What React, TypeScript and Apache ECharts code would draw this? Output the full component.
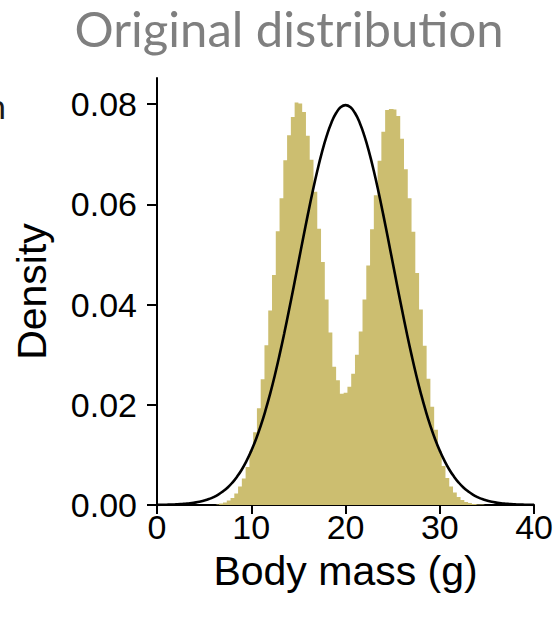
import React, { useEffect, useRef } from "react";
import * as echarts from "echarts";

// Histogram bins (centre of each 0.4-wide bin) and densities
const binCenters = [
  6.0, 6.4, 6.8, 7.2, 7.6, 8.0, 8.4, 8.8, 9.2, 9.6, 10.0, 10.4, 10.8, 11.2, 11.6, 12.0,
  12.4, 12.8, 13.2, 13.6, 14.0, 14.4, 14.8, 15.2, 15.6, 16.0, 16.4, 16.8, 17.2, 17.6,
  18.0, 18.4, 18.8, 19.2, 19.6, 20.0, 20.4, 20.8, 21.2, 21.6, 22.0, 22.4, 22.8, 23.2,
  23.6, 24.0, 24.4, 24.8, 25.2, 25.6, 26.0, 26.4, 26.8, 27.2, 27.6, 28.0, 28.4, 28.8,
  29.2, 29.6, 30.0, 30.4, 30.8, 31.2, 31.6, 32.0, 32.4, 32.8, 33.2, 33.6, 34.0, 34.4, 34.8,
];
const binDensity = [
  0, 0.0001, 0.0003, 0.0005, 0.0009, 0.0014, 0.0023, 0.0037, 0.0053, 0.0076, 0.0108,
  0.0145, 0.0193, 0.0251, 0.0319, 0.0388, 0.0459, 0.0546, 0.0612, 0.0688, 0.0738,
  0.0774, 0.0803, 0.0801, 0.0784, 0.0737, 0.0689, 0.0625, 0.0551, 0.0485, 0.041,
  0.0344, 0.0276, 0.0249, 0.0222, 0.0224, 0.0236, 0.0262, 0.03, 0.0346, 0.041, 0.0478,
  0.055, 0.0618, 0.0687, 0.0745, 0.0788, 0.079, 0.0789, 0.0776, 0.0731, 0.067, 0.0612,
  0.0545, 0.0463, 0.039, 0.0318, 0.0252, 0.0196, 0.015, 0.0108, 0.0078, 0.0054, 0.0037,
  0.0025, 0.0016, 0.001, 0.0006, 0.0004, 0.0002, 0.0001, 0.0001, 0,
];

// Fitted normal curve
const curveX = [
  0, 0.5, 1, 1.5, 2, 2.5, 3, 3.5, 4, 4.5, 5, 5.5, 6, 6.5, 7, 7.5, 8, 8.5, 9, 9.5, 10,
  10.5, 11, 11.5, 12, 12.5, 13, 13.5, 14, 14.5, 15, 15.5, 16, 16.5, 17, 17.5, 18, 18.5,
  19, 19.5, 20, 20.5, 21, 21.5, 22, 22.5, 23, 23.5, 24, 24.5, 25, 25.5, 26, 26.5, 27,
  27.5, 28, 28.5, 29, 29.5, 30, 30.5, 31, 31.5, 32, 32.5, 33, 33.5, 34, 34.5, 35, 35.5,
  36, 36.5, 37, 37.5, 38, 38.5, 39, 39.5, 40,
];
const curveY = [
  0.00003, 0.00004, 0.00006, 0.00008, 0.00012, 0.00017, 0.00025, 0.00034, 0.00048,
  0.00065, 0.00089, 0.00119, 0.00158, 0.00208, 0.00272, 0.0035, 0.00448, 0.00567,
  0.00709, 0.0088, 0.0108, 0.01312, 0.01579, 0.01881, 0.02218, 0.0259, 0.02995,
  0.03428, 0.03884, 0.04357, 0.04839, 0.05322, 0.05794, 0.06245, 0.06664, 0.07041,
  0.07365, 0.07628, 0.07821, 0.07939, 0.07979, 0.07939, 0.07821, 0.07628, 0.07365,
  0.07041, 0.06664, 0.06245, 0.05794, 0.05322, 0.04839, 0.04357, 0.03884, 0.03428,
  0.02995, 0.0259, 0.02218, 0.01881, 0.01579, 0.01312, 0.0108, 0.0088, 0.00709,
  0.00567, 0.00448, 0.0035, 0.00272, 0.00208, 0.00158, 0.00119, 0.00089, 0.00065,
  0.00048, 0.00034, 0.00025, 0.00017, 0.00012, 0.00008, 0.00006, 0.00004, 0.00003,
];

const xTicks = [0, 10, 20, 30, 40];
const yTicks = [0, 0.02, 0.04, 0.06, 0.08];

const AXIS_FONT = "'Liberation Sans', Arial, Helvetica, sans-serif";

export default function App() {
  const ref = useRef<HTMLDivElement>(null);

  useEffect(() => {
    if (!ref.current) return;
    const chart = echarts.init(ref.current, null, { renderer: "svg" });
    const histData = binCenters.map((x, i) => [x, binDensity[i]]);
    const curveData = curveX.map((x, i) => [x, curveY[i]]);
    chart.setOption({
      animation: false,
      backgroundColor: "#ffffff",
      graphic: [
        {
          type: "text",
          x: 289,
          y: 28,
          style: {
            text: "Original distribution",
            fill: "#7f7f7f",
            font: "49px Lato",
            align: "center",
            verticalAlign: "middle",
          },
        },
        {
          type: "text",
          x: 6,
          y: 105,
          style: {
            text: "n",
            fill: "#1a1a1a",
            font: "34px Lato",
            align: "right",
            verticalAlign: "middle",
          },
        },
      ],
      grid: { left: 157, right: 21, top: 78, bottom: 117, containLabel: false },
      xAxis: {
        type: "value",
        min: 0,
        max: 40,
        interval: 10,
        splitLine: { show: false },
        axisLine: { show: true, lineStyle: { color: "#000", width: 2 } },
        axisTick: {
          show: true,
          length: 9,
          customValues: xTicks,
          lineStyle: { color: "#000", width: 2 },
        },
        axisLabel: {
          customValues: xTicks,
          fontSize: 34,
          fontFamily: AXIS_FONT,
          color: "#000",
          margin: 5,
        },
        name: "Body mass (g)",
        nameLocation: "middle",
        nameGap: 45,
        nameTextStyle: { fontSize: 41, fontFamily: AXIS_FONT, color: "#000" },
      },
      yAxis: {
        type: "value",
        min: 0,
        max: 0.0852,
        interval: 0.02,
        splitLine: { show: false },
        axisLine: { show: true, lineStyle: { color: "#000", width: 2 } },
        axisTick: {
          show: true,
          length: 10,
          customValues: yTicks,
          lineStyle: { color: "#000", width: 2 },
        },
        axisLabel: {
          customValues: yTicks,
          fontSize: 34,
          fontFamily: AXIS_FONT,
          color: "#000",
          margin: 20,
          formatter: (v: number) => v.toFixed(2),
        },
        name: "Density",
        nameLocation: "middle",
        nameGap: 105,
        nameTextStyle: { fontSize: 41, fontFamily: AXIS_FONT, color: "#000" },
      },
      series: [
        {
          type: "line",
          data: histData,
          step: "middle",
          showSymbol: false,
          symbol: "none",
          lineStyle: { width: 0, color: "#ccbe70" },
          areaStyle: { color: "#ccbe70", opacity: 1 },
          silent: true,
          z: 1,
        },
        {
          type: "line",
          data: curveData,
          smooth: true,
          showSymbol: false,
          symbol: "none",
          lineStyle: { width: 2.6, color: "#000" },
          silent: true,
          z: 3,
        },
      ],
    });
    return () => chart.dispose();
  }, []);

  return (
    <div
      ref={ref}
      style={{ position: "absolute", left: 0, top: 0, width: 556, height: 622, background: "#fff" }}
    />
  );
}
